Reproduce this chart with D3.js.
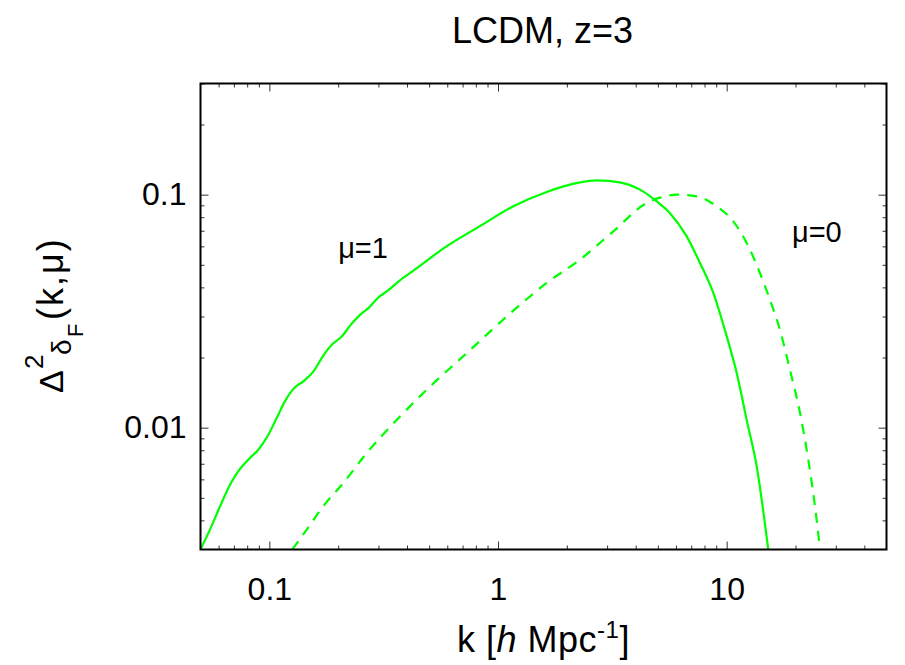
<!DOCTYPE html>
<html><head><meta charset="utf-8">
<script src="https://cdnjs.cloudflare.com/ajax/libs/d3/7.8.5/d3.min.js"></script>
<style>
body{margin:0;background:#fff;}
svg{display:block;font-family:"Liberation Sans",Arial,Helvetica,sans-serif;}
</style></head>
<body>
<svg id="c" width="905" height="665"></svg>
<script>
// ---- data ----
const title = "LCDM, z=3";
const xDomain = [0.05, 50];
const yDomain = [0.003, 0.3];
const xMajorTicks = [0.1, 1, 10];
const xMajorLabels = ["0.1", "1", "10"];
const xMinorTicks = [0.06,0.07,0.08,0.09,0.2,0.3,0.4,0.5,0.6,0.7,0.8,0.9,2,3,4,5,6,7,8,9,20,30,40];
const yMajorTicks = [0.01, 0.1];
const yMajorLabels = ["0.01", "0.1"];
const yMinorTicks = [0.004,0.005,0.006,0.007,0.008,0.009,0.02,0.03,0.04,0.05,0.06,0.07,0.08,0.09,0.2,0.3];

// mu = 1 (solid)
const kMu1 = [0.05,0.055,0.0609,0.0673,0.0744,0.0823,0.0895,0.099,0.1077,0.1171,0.1295,0.1408,0.1557,0.1722,0.1893,0.2073,0.2254,0.2493,0.271,0.2997,0.3338,0.3702,0.4264,0.597,0.834,1.167,1.633,2.283,2.702,3.415,4.177,4.942,5.65,6.686,7.642,8.738,10.0,11.06,12.23,13.53,15.2];
const pMu1 = [0.003,0.00365,0.0046,0.00569,0.00665,0.00741,0.00804,0.00933,0.011,0.013,0.0149,0.0158,0.0174,0.0204,0.0229,0.0246,0.0274,0.0305,0.0326,0.0362,0.0391,0.0427,0.0472,0.0601,0.0733,0.0891,0.1027,0.1129,0.1152,0.1129,0.1051,0.0936,0.0833,0.0662,0.0509,0.0379,0.0247,0.0172,0.0108,0.00682,0.003];

// mu = 0 (dashed)
const kMu0 = [0.126,0.1457,0.1722,0.2107,0.2667,0.3607,0.4878,0.730,1.167,1.633,2.283,3.193,4.468,5.109,6.044,7.394,9.043,10.69,12.23,13.98,15.46,17.10,18.91,20.92,22.74,24.33,25.6];
const pMu0 = [0.003,0.00365,0.0046,0.00579,0.00779,0.0108,0.01455,0.0209,0.0318,0.0418,0.0526,0.0696,0.0921,0.0971,0.1,0.0983,0.0891,0.0768,0.0621,0.0461,0.0354,0.0263,0.0177,0.0116,0.00729,0.0046,0.003];

const labelMu1 = {k: 0.2, v: 0.0537, text: "μ=1"};
const labelMu0 = {k: 19.3, v: 0.0628, text: "μ=0"};

// ---- layout ----
const L = 200.5, R = 886.5, T = 83.5, B = 549.5;
const green = "#00ff00";
const svg = d3.select("#c");

const x = d3.scaleLog().domain(xDomain).range([L, R]);
const y = d3.scaleLog().domain(yDomain).range([B, T]);

svg.append("defs").append("clipPath").attr("id","clip")
  .append("rect").attr("x",L).attr("y",T).attr("width",R-L).attr("height",B-T);

function styleAxis(g){
  g.select(".domain").remove();
  g.selectAll(".tick line").attr("stroke","#333").attr("stroke-width",1);
  g.selectAll("text").attr("fill","#000").style("font-size","32px")
   .style("font-family","'Liberation Sans',Arial,sans-serif");
}

const fmtX = d => xMajorLabels[xMajorTicks.indexOf(d)];
const fmtY = d => yMajorLabels[yMajorTicks.indexOf(d)];

// minor ticks
svg.append("g").attr("transform",`translate(0,${B})`)
  .call(d3.axisBottom(x).tickValues(xMinorTicks).tickSize(-4).tickFormat(""))
  .call(styleAxis);
svg.append("g").attr("transform",`translate(0,${T})`)
  .call(d3.axisTop(x).tickValues(xMinorTicks).tickSize(-4).tickFormat(""))
  .call(styleAxis);
svg.append("g").attr("transform",`translate(${L},0)`)
  .call(d3.axisLeft(y).tickValues(yMinorTicks).tickSize(-4).tickFormat(""))
  .call(styleAxis);
svg.append("g").attr("transform",`translate(${R},0)`)
  .call(d3.axisRight(y).tickValues(yMinorTicks).tickSize(-4).tickFormat(""))
  .call(styleAxis);

// major ticks
svg.append("g").attr("transform",`translate(0,${B})`)
  .call(d3.axisBottom(x).tickValues(xMajorTicks).tickSize(-8).tickPadding(28).tickFormat(fmtX))
  .call(styleAxis);
svg.append("g").attr("transform",`translate(0,${T})`)
  .call(d3.axisTop(x).tickValues(xMajorTicks).tickSize(-8).tickFormat(""))
  .call(styleAxis);
svg.append("g").attr("transform",`translate(${L},0)`)
  .call(d3.axisLeft(y).tickValues(yMajorTicks).tickSize(-8).tickPadding(14).tickFormat(fmtY))
  .call(styleAxis);
svg.append("g").attr("transform",`translate(${R},0)`)
  .call(d3.axisRight(y).tickValues(yMajorTicks).tickSize(-8).tickFormat(""))
  .call(styleAxis);

// curves
const line = d3.line().x(d => x(d[0])).y(d => y(d[1])).curve(d3.curveMonotoneX);
const plot = svg.append("g").attr("clip-path","url(#clip)");
plot.append("path").datum(kMu1.map((k,i)=>[k,pMu1[i]]))
  .attr("d",line).attr("fill","none").attr("stroke",green).attr("stroke-width",2.2);
plot.append("path").datum(kMu0.map((k,i)=>[k,pMu0[i]]))
  .attr("d",line).attr("fill","none").attr("stroke",green).attr("stroke-width",2.2)
  .attr("stroke-dasharray","10,8");

// frame
svg.append("rect").attr("x",L).attr("y",T).attr("width",R-L).attr("height",B-T)
  .attr("fill","none").attr("stroke","#000").attr("stroke-width",2);

// curve labels
[labelMu1,labelMu0].forEach(l=>{
  svg.append("text").attr("x",x(l.k)).attr("y",y(l.v)).text(l.text)
    .style("font-size","29px").attr("fill","#000");
});

// title
svg.append("text").attr("x",(L+R)/2 - 1).attr("y",43).attr("text-anchor","middle")
  .style("font-size","36px").text(title);

// x axis title
const xt = svg.append("text").attr("x",(L+R)/2).attr("y",652).attr("text-anchor","middle")
  .style("font-size","36px").style("letter-spacing","0.5px");
xt.append("tspan").text("k [");
xt.append("tspan").style("font-style","italic").text("h");
xt.append("tspan").text(" Mpc");
xt.append("tspan").attr("dy",-14).style("font-size","24px").text("-1");
xt.append("tspan").attr("dy",14).text("]");

// y axis title (rotated)
const yg = svg.append("g").attr("transform","translate(63,393) rotate(-90)");
yg.append("text").attr("x",0).attr("y",0).style("font-size","34px").text("Δ");
yg.append("text").attr("x",24).attr("y",-20).style("font-size","26px").text("2");
yg.append("text").attr("x",38).attr("y",8).style("font-size","28px").text("δ");
yg.append("text").attr("x",56).attr("y",20).style("font-size","22px").text("F");
yg.append("text").attr("x",73).attr("y",0).style("font-size","36px").style("letter-spacing","2px").text("(k,μ)");
</script>
</body></html>
